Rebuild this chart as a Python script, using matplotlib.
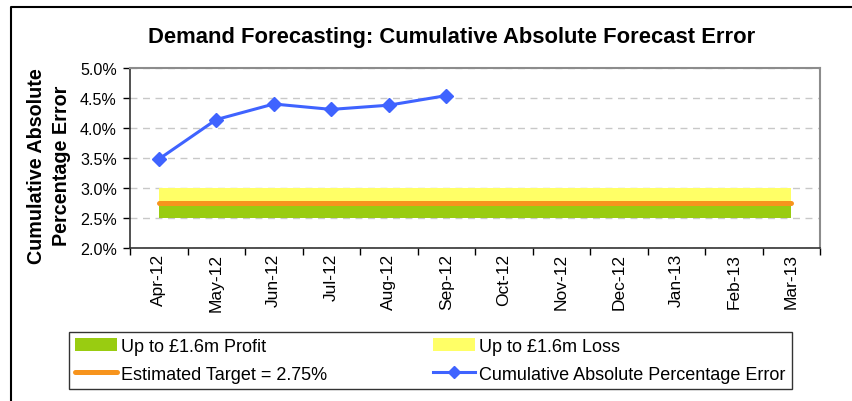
import matplotlib
matplotlib.use("Agg")
import matplotlib.pyplot as plt
from matplotlib.lines import Line2D
from matplotlib.patches import Patch
from matplotlib.ticker import FuncFormatter, MultipleLocator

plt.rcParams["font.family"] = ["Liberation Sans", "DejaVu Sans"]

# data (values in %)
months = ["Apr-12", "May-12", "Jun-12", "Jul-12", "Aug-12", "Sep-12",
          "Oct-12", "Nov-12", "Dec-12", "Jan-13", "Feb-13", "Mar-13"]
cape = [3.48, 4.14, 4.40, 4.31, 4.38, 4.54]
profit_floor = [2.5] * 12
target = [2.75] * 12
loss_ceiling = [3.0] * 12

GREEN = "#99cc11"
YELLOW = "#ffff66"
ORANGE = "#f7941d"
BLUE = "#3f63ff"

fig = plt.figure(figsize=(8.52, 4.02), dpi=100)
ax = fig.add_axes([130 / 852, 1 - 249 / 402, 690 / 852, 180 / 402])

x = list(range(len(months)))
ax.fill_between(x, profit_floor, target, color=GREEN, linewidth=0, zorder=2)
ax.fill_between(x, target, loss_ceiling, color=YELLOW, linewidth=0, zorder=2)
ax.plot(x, target, color=ORANGE, linewidth=3.6, solid_capstyle="round", zorder=3)
ax.plot(x[:len(cape)], cape, color=BLUE, linewidth=2.2, marker="D", markersize=7,
        zorder=4)

ax.set_xlim(-0.5, len(months) - 0.5)
ax.set_ylim(2.0, 5.0)
ax.yaxis.set_major_locator(MultipleLocator(0.5))
ax.yaxis.set_major_formatter(FuncFormatter(lambda v, _: f"{v:.1f}%"))
ax.yaxis.grid(True, color="#c8c8c8", linestyle=(0, (5, 4)), linewidth=1)
ax.set_axisbelow(True)

ax.set_xticks([i - 0.5 for i in range(len(months) + 1)])
ax.set_xticklabels([])
ax.set_xticks(x, minor=True)
ax.set_xticklabels(months, minor=True, rotation=90, fontsize=12.5)
ax.tick_params(axis="x", which="major", direction="out", length=5, width=1)
ax.tick_params(axis="x", which="minor", length=0, pad=3.5)
ax.tick_params(axis="y", direction="out", length=5, width=1, labelsize=11.6, pad=4.5)

for side in ("top", "right"):
    ax.spines[side].set_color("#8c8c8c")
    ax.spines[side].set_linewidth(1.5)
for side in ("left", "bottom"):
    ax.spines[side].set_color("#333333")
    ax.spines[side].set_linewidth(1.2)

fig.text(452 / 852, 1 - 37 / 402,
         "Demand Forecasting: Cumulative Absolute Forecast Error",
         ha="center", va="center", fontsize=15.8, fontweight="bold")
fig.text(49 / 852, 1 - 166 / 402, "Cumulative Absolute\nPercentage Error",
         rotation=90, ha="center", va="center", multialignment="center",
         fontsize=14.2, fontweight="bold", linespacing=1.4)

# outer chart border (left and top edges visible)
fig.add_artist(Line2D([11 / 852, 11 / 852, 1.0], [0.0, 1 - 8 / 402, 1 - 8 / 402],
                      transform=fig.transFigure, color="black", linewidth=1.5))

handles = [
    Patch(facecolor=GREEN, edgecolor="none"),
    Line2D([], [], color=ORANGE, linewidth=3.6, solid_capstyle="round"),
    Patch(facecolor=YELLOW, edgecolor="none"),
    Line2D([], [], color=BLUE, linewidth=2.2, marker="D", markersize=6),
]
labels = ["Up to £1.6m Profit", "Estimated Target = 2.75%",
          "Up to £1.6m Loss", "Cumulative Absolute Percentage Error"]
leg = fig.legend(handles, labels, ncol=2, mode="expand", loc="lower left",
                 bbox_to_anchor=(69 / 852, 12 / 402, 723 / 852, 56 / 402),
                 bbox_transform=fig.transFigure, fontsize=13, frameon=True,
                 fancybox=False, borderpad=0.35, handlelength=2.3,
                 handleheight=0.7, handletextpad=0.25, labelspacing=0.6,
                 borderaxespad=0)
leg.get_frame().set_edgecolor("black")
leg.get_frame().set_linewidth(1.0)

fig.savefig("out.png", dpi=100)
